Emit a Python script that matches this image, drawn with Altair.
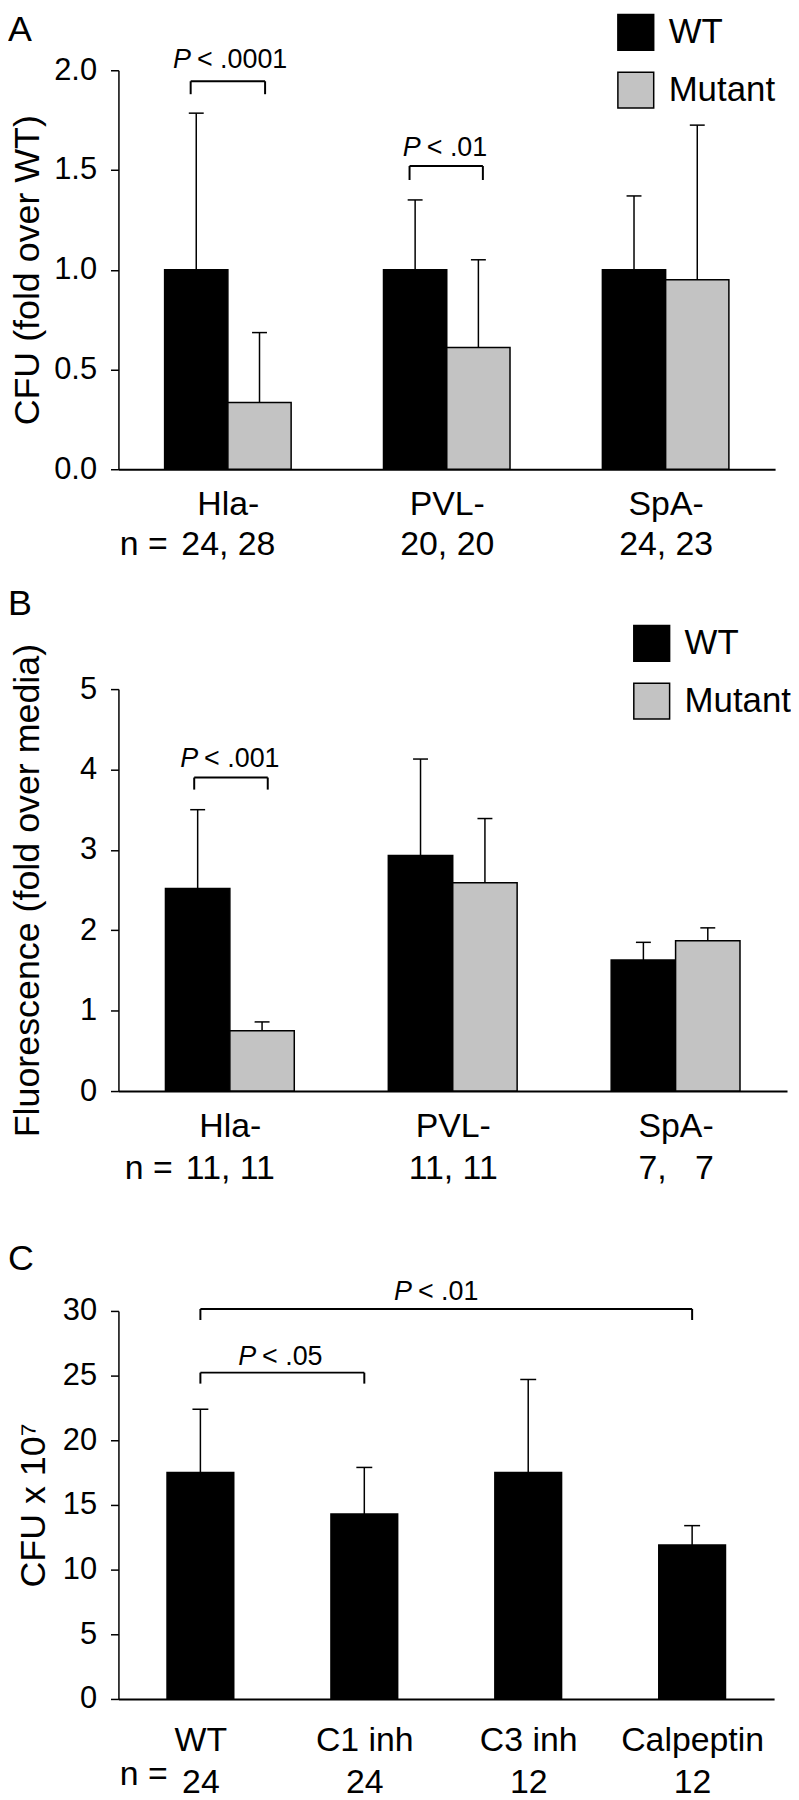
import json
import altair as alt
import pandas as pd

FONT = "Liberation Sans, Arial, Helvetica, sans-serif"
SERIES = ["WT", "Mutant"]
SERIES_COLORS = ["#000000", "#c3c3c3"]

# ---------------- Panel A ----------------
a_letter = ["A"]
a_groups = ["Hla-", "PVL-", "SpA-"]
a_n = ["24, 28", "20, 20", "24, 23"]
a_wt_mean = [1.0, 1.0, 1.0]
a_wt_sd = [0.785, 0.35, 0.37]
a_mut_mean = [0.335, 0.61, 0.95]
a_mut_sd = [0.35, 0.44, 0.775]
a_ytitle = "CFU (fold over WT)"
a_y_ticks = [0, 0.5, 1.0, 1.5, 2.0]
a_p_text = ["< .0001", "< .01"]
a_p_x = [-0.155, 0.895]
a_p_y = [2.01, 1.57]
a_br_left = [-0.17, 0.83]
a_br_right = [0.17, 1.165]
a_br_top = [1.945, 1.52]
a_br_bottom = [1.88, 1.45]

# ---------------- Panel B ----------------
b_letter = ["B"]
b_groups = ["Hla-", "PVL-", "SpA-"]
b_n = ["11, 11", "11, 11", "7,\u2007\u00a07"]
b_wt_mean = [2.52, 2.93, 1.63]
b_wt_sd = [0.98, 1.20, 0.22]
b_mut_mean = [0.75, 2.59, 1.87]
b_mut_sd = [0.11, 0.80, 0.16]
b_ytitle = "Fluorescence (fold over media)"
b_y_ticks = [0, 1, 2, 3, 4, 5]
b_p_text = ["< .001"]
b_p_x = [-0.129]
b_p_y = [4.03]
b_br_left = [-0.16]
b_br_right = [0.17]
b_br_top = [3.90]
b_br_bottom = [3.75]

# ---------------- Panel C ----------------
c_letter = ["C"]
c_groups = ["WT", "C1 inh", "C3 inh", "Calpeptin"]
c_n = ["24", "24", "12", "12"]
c_mean = [17.5, 14.3, 17.5, 11.9]
c_sd = [4.9, 3.6, 7.2, 1.5]
c_ytitle = "CFU x 10\u2077"
c_y_ticks = [0, 5, 10, 15, 20, 25, 30]
c_p_text = ["< .05", "< .01"]
c_p_x = [0.358, 1.309]
c_p_y = [25.85, 30.85]
c_br_left = [0, 0]
c_br_right = [1, 3]
c_br_top = [25.23, 30.15]
c_br_bottom = [24.38, 29.3]


def panel(letter, groups, ns, means, sds, names, colors, ytitle, ydom, yticks, yfmt,
          width, height, bar_w, cap_px, p_text, p_x, p_y, br_left, br_right, br_top,
          br_bottom, title_x, letter_y, lab_pad, lab_lh, n_x, n_y, legend_xy=None):
    n = len(groups)
    k = len(names)
    unit = width / n
    cap = cap_px / unit
    xscale = alt.Scale(domain=[-0.5, n - 0.5], nice=False, zero=False)
    yscale = alt.Scale(domain=ydom, nice=False, zero=True)

    pairs = [[g, c] for g, c in zip(groups, ns)]
    label_expr = json.dumps(pairs, ensure_ascii=False) + "[datum.value]"
    xaxis = alt.Axis(
        title="n =", values=list(range(n)), labelExpr=label_expr, ticks=False,
        domainWidth=2, domainColor="black", grid=False, labelFontSize=34,
        labelPadding=lab_pad, labelLineHeight=lab_lh, labelBaseline="top",
        labelAlign="center", labelAngle=0, labelOverlap=False, labelFlush=False,
        titleFontSize=34, titleFontWeight="normal", titleX=n_x, titleY=n_y,
        titleAlign="right", titleBaseline="alphabetic")
    yaxis = alt.Axis(
        title=ytitle, values=yticks, format=yfmt, grid=False, tickSize=8,
        tickWidth=1.5, domainWidth=1.5, domainColor="black", tickColor="black",
        labelFontSize=31, labelPadding=14, labelFlush=False,
        titleFontSize=36, titleFontWeight="normal", titleAngle=270,
        titleX=title_x, titleY=height / 2, titleAlign="center",
        titleBaseline="alphabetic")

    rows = []
    for s, name in enumerate(names):
        for i in range(n):
            x0 = i - k * bar_w / 2 + s * bar_w
            x1 = x0 + bar_w
            xc = (x0 + x1) / 2
            m = means[s][i]
            top = m + sds[s][i]
            rows.append(dict(series=name, x0=x0, x1=x1, xc=xc, base=0.0, mean=m,
                             top=top, capl=xc - cap, capr=xc + cap))
    bars_df = pd.DataFrame(rows)

    def X(field):
        return alt.X(field, type="quantitative", scale=xscale, axis=xaxis)

    def Y(field):
        return alt.Y(field, type="quantitative", scale=yscale, axis=yaxis)

    if k > 1:
        lx, ly = legend_xy
        color = alt.Color(
            "series:N",
            scale=alt.Scale(domain=names, range=colors),
            legend=alt.Legend(
                orient="none", legendX=lx, legendY=ly, title=None,
                symbolType="square", symbolSize=1296, symbolStrokeColor="black",
                symbolStrokeWidth=1.5, symbolOpacity=1, labelFontSize=35,
                labelFont=FONT, labelColor="black", rowPadding=16,
                labelOffset=14, labelBaseline="middle"))
    else:
        color = alt.value(colors[0])

    bars = alt.Chart(bars_df).mark_bar(stroke="black", strokeWidth=1.5, opacity=1).encode(
        x=X("x0"), x2="x1", y=Y("base"), y2="mean", color=color)
    stems = alt.Chart(bars_df).mark_rule(color="black", strokeWidth=1.5).encode(
        x=X("xc"), y=Y("mean"), y2="top")
    caps = alt.Chart(bars_df).mark_rule(color="black", strokeWidth=1.5).encode(
        x=X("capl"), x2="capr", y=Y("top"))

    segs = []
    for l, r, t, b in zip(br_left, br_right, br_top, br_bottom):
        segs.append(dict(x=l, x2=r, y=t, y2=t))
        segs.append(dict(x=l, x2=l, y=b, y2=t))
        segs.append(dict(x=r, x2=r, y=b, y2=t))
    seg_df = pd.DataFrame(segs)
    brackets = alt.Chart(seg_df).mark_rule(color="black", strokeWidth=2).encode(
        x=X("x"), x2="x2", y=Y("y"), y2="y2")

    p_df = pd.DataFrame(dict(px=p_x, py=p_y, rest=p_text, P=["P"] * len(p_text)))
    p_italic = alt.Chart(p_df).mark_text(
        align="right", baseline="alphabetic", fontStyle="italic", fontSize=27,
        font=FONT, color="black", dx=-3).encode(x=X("px"), y=Y("py"), text="P:N")
    p_rest = alt.Chart(p_df).mark_text(
        align="left", baseline="alphabetic", fontSize=27, font=FONT,
        color="black", dx=3).encode(x=X("px"), y=Y("py"), text="rest:N")

    letter_df = pd.DataFrame(dict(letter=letter))
    letter_mark = alt.Chart(letter_df).mark_text(
        align="left", baseline="alphabetic", fontSize=36, font=FONT,
        color="black").encode(x=alt.value(-111), y=alt.value(letter_y),
                              text="letter:N")

    return alt.layer(bars, stems, caps, brackets, p_italic, p_rest, letter_mark).properties(
        width=width, height=height)


pa = panel(a_letter, a_groups, a_n, [a_wt_mean, a_mut_mean], [a_wt_sd, a_mut_sd],
           SERIES, SERIES_COLORS, a_ytitle, [0, 2], a_y_ticks, ".1f",
           660, 401, 0.289, 7.5, a_p_text, a_p_x, a_p_y, a_br_left, a_br_right,
           a_br_top, a_br_bottom, -80, -29, 19, 40, 49, 86, legend_xy=(501, -57))

pb = panel(b_letter, b_groups, b_n, [b_wt_mean, b_mut_mean], [b_wt_sd, b_mut_sd],
           SERIES, SERIES_COLORS, b_ytitle, [0, 5], b_y_ticks, "d",
           672, 404, 0.289, 7.5, b_p_text, b_p_x, b_p_y, b_br_left, b_br_right,
           b_br_top, b_br_bottom, -80, -74, 19, 42, 54, 88, legend_xy=(517, -65))

pc = panel(c_letter, c_groups, c_n, [c_mean], [c_sd], ["CFU"], ["#000000"],
           c_ytitle, [0, 30], c_y_ticks, "d",
           659, 390, 0.407, 8, c_p_text, c_p_x, c_p_y, c_br_left, c_br_right,
           c_br_top, c_br_bottom, -74, -41, 25, 42, 49, 86)

chart = alt.vconcat(pa, pb, pc, spacing=221, bounds="flush").resolve_scale(
    color="independent", x="independent", y="independent"
).resolve_legend(color="independent").properties(padding=0).configure_view(
    strokeWidth=0
).configure_axis(
    labelFont=FONT, titleFont=FONT, labelColor="black", titleColor="black"
).configure_legend(labelFont=FONT)

chart.save("out.html", embed_options={"renderer": "svg", "actions": False})
